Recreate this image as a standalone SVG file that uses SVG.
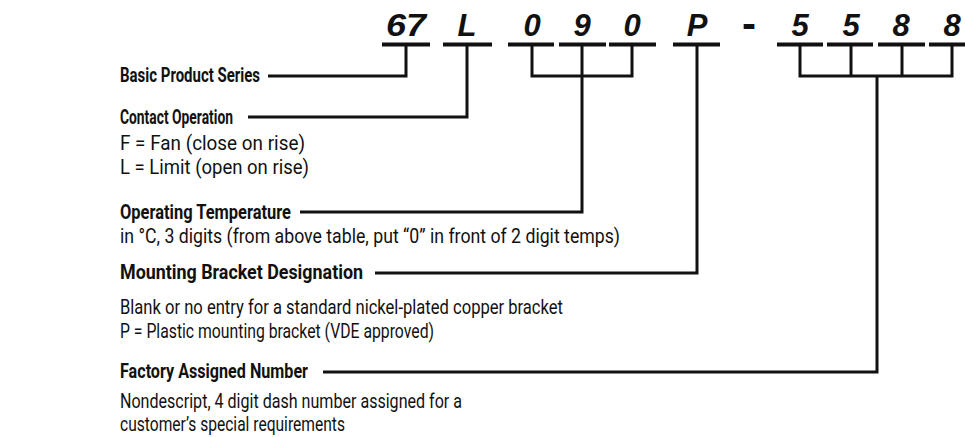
<svg xmlns="http://www.w3.org/2000/svg" width="965" height="437" viewBox="0 0 965 437">
<style>
.code{font-family:"Liberation Sans",Arial,sans-serif;font-weight:bold;font-style:italic;font-size:31px;fill:#111;text-anchor:middle}
.h{font-family:Roboto,"Liberation Sans",sans-serif;font-weight:bold;font-size:20px;fill:#111}
.t{font-family:Roboto,"Liberation Sans",sans-serif;font-size:19.5px;fill:#111}
.bar{stroke:#111;stroke-width:4;fill:none}
.ln{stroke:#111;stroke-width:3;fill:none;stroke-linejoin:miter}
</style>
<rect width="965" height="437" fill="#fff"/>
<g id="code">
<text class="code" x="406" y="36" textLength="40" lengthAdjust="spacingAndGlyphs">67</text>
<text class="code" x="467" y="36">L</text>
<text class="code" x="532" y="36">0</text>
<text class="code" x="582" y="36">9</text>
<text class="code" x="632" y="36">0</text>
<text class="code" x="697" y="36">P</text>
<text class="code" x="749" y="38" style="font-size:42px;font-style:normal">-</text>
<text class="code" x="800" y="36">5</text>
<text class="code" x="851" y="36">5</text>
<text class="code" x="901" y="36">8</text>
<text class="code" x="952" y="36">8</text>
</g>
<g id="bars">
<line class="bar" x1="382" y1="44.5" x2="430" y2="44.5"/>
<line class="bar" x1="443" y1="44.5" x2="492" y2="44.5"/>
<line class="bar" x1="508" y1="44.5" x2="554" y2="44.5"/>
<line class="bar" x1="559" y1="44.5" x2="606" y2="44.5"/>
<line class="bar" x1="609" y1="44.5" x2="656" y2="44.5"/>
<line class="bar" x1="673" y1="44.5" x2="720" y2="44.5"/>
<line class="bar" x1="777" y1="44.5" x2="823" y2="44.5"/>
<line class="bar" x1="827" y1="44.5" x2="873" y2="44.5"/>
<line class="bar" x1="878" y1="44.5" x2="925" y2="44.5"/>
<line class="bar" x1="929" y1="44.5" x2="976" y2="44.5"/>
</g>
<g id="series">
<text class="h" x="120" y="82" textLength="140" lengthAdjust="spacingAndGlyphs">Basic Product Series</text>
</g>
<g id="contact">
<text class="h" x="120" y="124" textLength="113" lengthAdjust="spacingAndGlyphs">Contact Operation</text>
<text class="t" x="120" y="150" textLength="185" lengthAdjust="spacingAndGlyphs">F = Fan (close on rise)</text>
<text class="t" x="120" y="174" textLength="189" lengthAdjust="spacingAndGlyphs">L = Limit (open on rise)</text>
</g>
<g id="temperature">
<text class="h" x="120" y="219" textLength="171" lengthAdjust="spacingAndGlyphs">Operating Temperature</text>
<text class="t" x="120" y="243" textLength="500" lengthAdjust="spacingAndGlyphs">in °C, 3 digits (from above table, put “0” in front of 2 digit temps)</text>
</g>
<g id="bracket">
<text class="h" x="120" y="279" textLength="243" lengthAdjust="spacingAndGlyphs">Mounting Bracket Designation</text>
<text class="t" x="120" y="314" textLength="443" lengthAdjust="spacingAndGlyphs">Blank or no entry for a standard nickel-plated copper bracket</text>
<text class="t" x="120" y="338" textLength="314" lengthAdjust="spacingAndGlyphs">P = Plastic mounting bracket (VDE approved)</text>
</g>
<g id="factory">
<text class="h" x="120" y="378" textLength="188" lengthAdjust="spacingAndGlyphs">Factory Assigned Number</text>
<text class="t" x="120" y="408" textLength="342" lengthAdjust="spacingAndGlyphs">Nondescript, 4 digit dash number assigned for a</text>
<text class="t" x="120" y="431" textLength="225" lengthAdjust="spacingAndGlyphs">customer’s special requirements</text>
</g>
<g id="connectors">
<polyline class="ln" points="268,76 406,76 406,46"/>
<polyline class="ln" points="248,117 467,117 467,46"/>
<polyline class="ln" points="532,46 532,76 632,76 632,46"/>
<polyline class="ln" points="300,212 582,212 582,46"/>
<polyline class="ln" points="375,273 697,273 697,46"/>
<polyline class="ln" points="800,46 800,76 952,76 952,46"/>
<line class="ln" x1="851" y1="46" x2="851" y2="76"/>
<line class="ln" x1="902" y1="46" x2="902" y2="76"/>
<polyline class="ln" points="323,372 877,372 877,76"/>
</g>
</svg>
